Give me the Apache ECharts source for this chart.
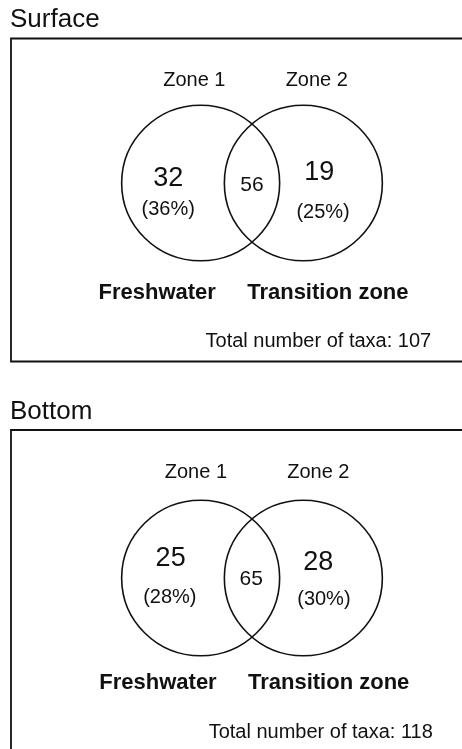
<!DOCTYPE html>
<html>
<head>
<meta charset="utf-8">
<script src="https://cdn.jsdelivr.net/npm/echarts@6/dist/echarts.min.js"></script>
<style>
html,body{margin:0;padding:0;background:#fff;}
#chart{width:462px;height:749px;}
</style>
</head>
<body>
<div id="chart"></div>
<script>
// ---- data ----
const panelTitles = ['Surface', 'Bottom'];
const zoneLabels = ['Zone 1', 'Zone 2'];
const setNames = ['Freshwater', 'Transition zone'];
const onlyZone1 = [32, 25];
const onlyZone2 = [19, 28];
const sharedTaxa = [56, 65];
const pctZone1 = [36, 28];
const pctZone2 = [25, 30];
const totalTaxa = [107, 118];

// ---- layout (radius units: circle radius = 1) ----
const FONT = '"Liberation Sans", Arial, Helvetica, sans-serif';
const UNIT = 79;            // px per radius unit
const SEP = 1.3;            // distance between circle centres
const GRID_LEFT = 11, GRID_WIDTH = 480;
const panelBoxes = [
  {top: 38.5, height: 323, cx: 252, cy: 183, titleTop: 7},
  {top: 430, height: 360, cx: 252, cy: 578, titleTop: 399}
];
const labelPos = [
  {z1: [-0.73, 1.30], z2: [0.82, 1.30], n1: [-1.06, 0.06], p1: [-1.06, -0.34], ns: [0, -0.03],
   n2: [0.85, 0.13], p2: [0.90, -0.37], s1: [-1.20, -1.39], s2: [0.96, -1.39], tot: [0.84, -2.00]},
  {z1: [-0.71, 1.33], z2: [0.84, 1.33], n1: [-1.03, 0.24], p1: [-1.04, -0.25], ns: [-0.01, -0.01],
   n2: [0.84, 0.20], p2: [0.91, -0.27], s1: [-1.19, -1.33], s2: [0.97, -1.33], tot: [0.87, -1.95]}
];

const grids = [], xAxes = [], yAxes = [], series = [], titles = [];
panelBoxes.forEach((b, i) => {
  grids.push({left: GRID_LEFT, top: b.top, width: GRID_WIDTH, height: b.height, show: true,
    outerBoundsMode: 'none', containLabel: false,
    borderColor: '#111', borderWidth: 1.8, backgroundColor: 'transparent'});
  const xmin = -(b.cx - GRID_LEFT) / UNIT;
  const ymax = (b.cy - b.top) / UNIT;
  xAxes.push({type: 'value', gridIndex: i, min: xmin, max: xmin + GRID_WIDTH / UNIT, show: false});
  yAxes.push({type: 'value', gridIndex: i, min: ymax - b.height / UNIT, max: ymax, show: false});
  titles.push({text: panelTitles[i], left: 10, top: b.titleTop, padding: 0,
    textStyle: {fontFamily: FONT, fontSize: 26, fontWeight: 'normal', color: '#111'}});
  series.push({
    type: 'custom', xAxisIndex: i, yAxisIndex: i, silent: true, clip: false,
    data: [[0, 0]],
    renderItem: function (params, api) {
      const L = labelPos[i];
      const children = [];
      const rpx = api.size([1, 1]);
      [-SEP / 2, SEP / 2].forEach(cx => {
        const p = api.coord([cx, 0]);
        children.push({type: 'ellipse', shape: {cx: p[0], cy: p[1], rx: rpx[0], ry: rpx[1] * 0.985},
          style: {fill: 'none', stroke: '#111', lineWidth: 1.6}});
      });
      function txt(pos, text, size, weight) {
        const p = api.coord(pos);
        children.push({type: 'text', x: p[0], y: p[1],
          style: {text: String(text), fontSize: size, fontWeight: weight || 'normal', fontFamily: FONT,
            fill: '#111', align: 'center', verticalAlign: 'middle'}});
      }
      txt(L.z1, zoneLabels[0], 20);
      txt(L.z2, zoneLabels[1], 20);
      txt(L.n1, onlyZone1[i], 27);
      txt(L.p1, '(' + pctZone1[i] + '%)', 20);
      txt(L.ns, sharedTaxa[i], 21);
      txt(L.n2, onlyZone2[i], 27);
      txt(L.p2, '(' + pctZone2[i] + '%)', 20);
      txt(L.s1, setNames[0], 22, 'bold');
      txt(L.s2, setNames[1], 22, 'bold');
      txt(L.tot, 'Total number of taxa: ' + totalTaxa[i], 20);
      return {type: 'group', children: children};
    }
  });
});

const chart = echarts.init(document.getElementById('chart'), null, {renderer: 'canvas'});
chart.setOption({
  backgroundColor: '#fff',
  animation: false,
  title: titles,
  grid: grids,
  xAxis: xAxes,
  yAxis: yAxes,
  series: series
});
</script>
</body>
</html>
